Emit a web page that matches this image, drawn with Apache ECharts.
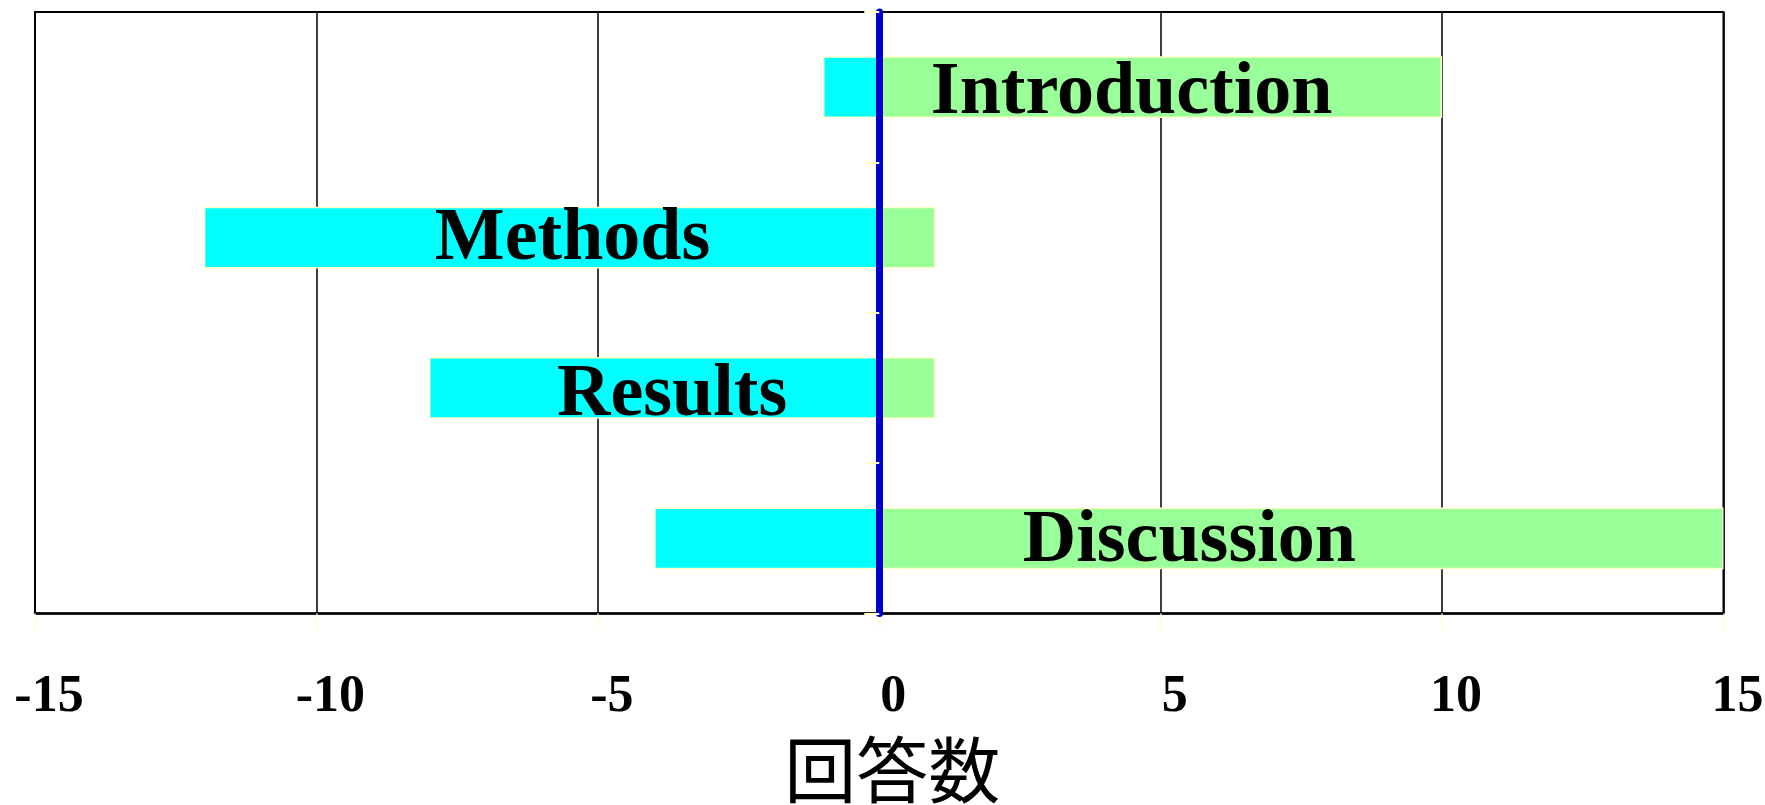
<!DOCTYPE html>
<html>
<head>
<meta charset="utf-8">
<script src="https://cdn.jsdelivr.net/npm/echarts@6/dist/echarts.min.js"></script>
<style>
  html, body { margin: 0; padding: 0; background: #fff; }
  #chart { width: 1765px; height: 805px; }
</style>
</head>
<body>
<div id="chart"></div>
<script>
const categories = ['Introduction', 'Methods', 'Results', 'Discussion'];
const negValues = [-1, -12, -8, -4];
const posValues = [10, 1, 1, 15];
const axisName = '回答数';

// where each category name sits (which bar carries it and a pixel nudge)
const labelOnPos = [true, false, false, true];
const labelNudge = [[-29, 7], [31, 2], [18, 8], [-112, 4]];

const serif = '"Liberation Serif", "Times New Roman", serif';

const nameLabel = (i) => ({
  show: true,
  position: 'inside',
  formatter: categories[i],
  offset: labelNudge[i],
  color: '#000',
  fontFamily: serif,
  fontWeight: 'bold',
  fontSize: 74,
});

const chart = echarts.init(document.getElementById('chart'));

chart.setOption({
  animation: false,
  grid: {
    left: 35,
    right: 41.5,
    top: 12,
    bottom: 191.5,
    outerBoundsMode: 'none',
    containLabel: false,
    show: true,
    borderColor: '#000',
    borderWidth: 2,
    backgroundColor: '#fff',
  },
  xAxis: {
    type: 'value',
    min: -15,
    max: 15,
    interval: 5,
    name: axisName,
    nameLocation: 'middle',
    nameGap: 120,
    nameTextStyle: {
      fontFamily: '"Noto Sans CJK JP", sans-serif',
      fontSize: 72,
      color: '#000',
      padding: [0, 0, 0, 26],
    },
    axisLine: { show: true, onZero: false, lineStyle: { color: '#000', width: 2.5 } },
    axisTick: { show: true, length: 16, lineStyle: { color: '#FFFFCC', width: 1.5 } },
    axisLabel: {
      margin: 58,
      color: '#000',
      fontFamily: serif,
      fontWeight: 'bold',
      fontSize: 52,
      padding: [0, 0, 0, 28],
    },
    splitLine: { show: true, lineStyle: { color: '#000', width: 1.5 } },
  },
  yAxis: {
    type: 'category',
    inverse: true,
    data: categories,
    z: 5,
    axisLine: { show: true, onZero: true, lineStyle: { color: '#0000CC', width: 7 } },
    axisTick: { show: true, length: 15, lineStyle: { color: '#FFFFCC', width: 2 } },
    axisLabel: { show: false },
    splitLine: { show: false },
  },
  series: [
    {
      name: 'neg',
      type: 'bar',
      barGap: '-100%',
      barCategoryGap: '59%',
      itemStyle: { color: '#00FFFF', borderColor: '#FFFFCC', borderWidth: 1.5 },
      data: negValues.map((v, i) => ({
        value: v,
        label: labelOnPos[i] ? { show: false } : nameLabel(i),
      })),
    },
    {
      name: 'pos',
      type: 'bar',
      barGap: '-100%',
      barCategoryGap: '59%',
      itemStyle: { color: '#99FF99', borderColor: '#FFFFCC', borderWidth: 1.5 },
      data: posValues.map((v, i) => ({
        value: v,
        label: labelOnPos[i] ? nameLabel(i) : { show: false },
      })),
    },
  ],
});
</script>
</body>
</html>
